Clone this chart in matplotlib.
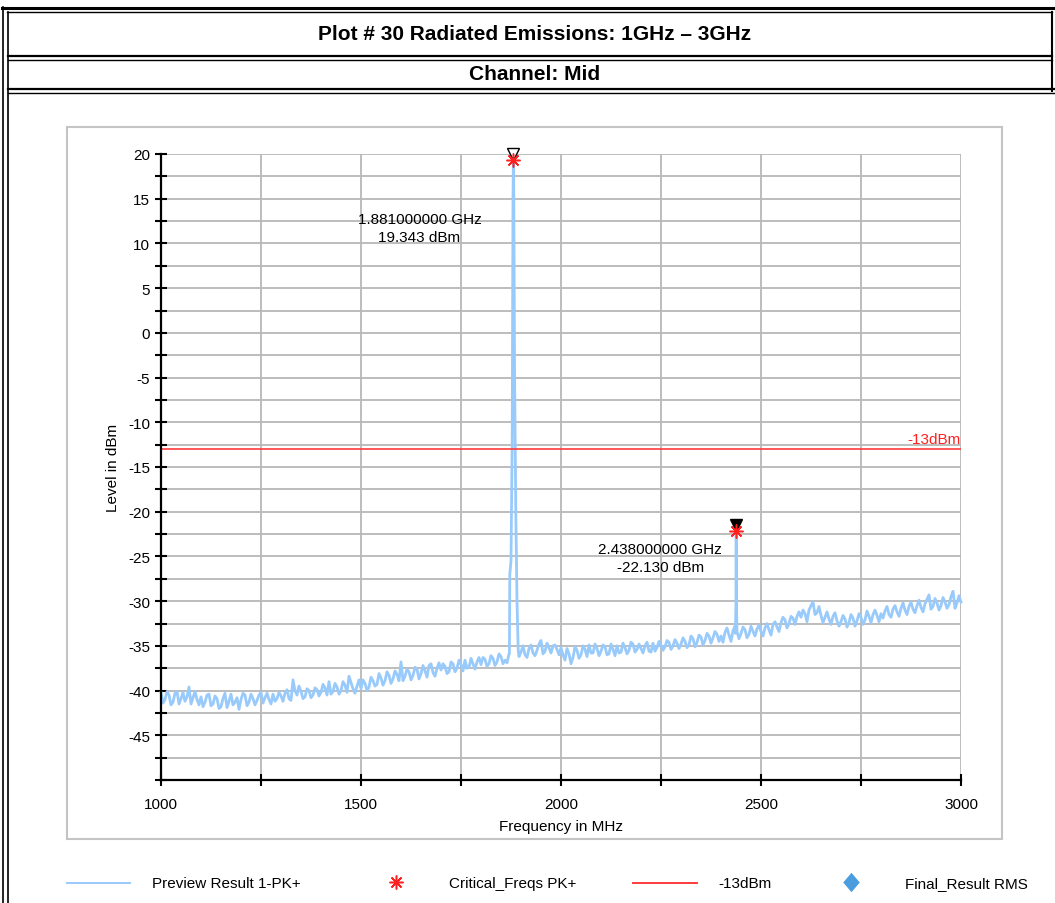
import numpy as np
import matplotlib
matplotlib.use("Agg")
import matplotlib.pyplot as plt
from matplotlib.lines import Line2D
from matplotlib.patches import Rectangle
from matplotlib import transforms

plt.rcParams['font.family'] = ['Liberation Sans', 'DejaVu Sans']
plt.rcParams['axes.unicode_minus'] = False

# ---------------- data ----------------
title_text = "Plot # 30 Radiated Emissions: 1GHz \u2013 3GHz"
subtitle_text = "Channel: Mid"

# trace sampled at 1000, 1010, ... 3000 MHz
noise_level = [
    -40.2, -41.0, -40.5, -41.3, -40.1, -40.9, -41.2, -39.6, -40.8, -41.0,
    -40.7, -41.3, -40.4, -41.5, -40.9, -41.8, -40.3, -41.2, -41.6, -40.8,
    -41.0, -40.5, -41.3, -40.9, -41.1, -40.2, -40.8, -41.0, -40.4, -40.9,
    -40.6, -40.3, -40.9, -38.8, -40.5, -40.1, -40.7, -40.0, -40.5, -39.9,
    -40.2, -39.7, -39.0, -40.1, -39.6, -40.0, -39.4, -38.4, -39.8, -39.5,
    -39.8, -39.2, -39.6, -38.9, -39.3, -38.6, -38.9, -38.3, -38.7, -38.2,
    -36.8, -38.4, -37.9, -38.3, -37.6, -38.1, -37.8, -37.2, -38.0, -37.5,
    -37.7, -37.3, -37.9, -37.0, -37.5, -37.1, -36.6, -37.4, -37.0, -36.8,
    -37.1, -36.5, -37.0, -36.4, -36.8, -36.2, -36.6, -35.9, -35.5, -35.6,
    -35.7, -36.0, -35.3, -35.8, -35.5, -34.4, -35.6, -35.2, -35.0, -35.4,
    -35.2, -36.6, -35.9, -36.3, -35.5, -36.0, -35.4, -34.9, -35.8, -35.3,
    -35.6, -35.1, -35.9, -35.4, -35.0, -35.7, -35.2, -35.5, -34.8, -35.4,
    -35.3, -35.0, -35.6, -34.7, -35.2, -34.9, -35.1, -34.6, -35.0, -34.7,
    -34.8, -34.5, -34.9, -34.2, -34.6, -34.0, -34.4, -33.9, -34.1, -33.7,
    -33.9, -33.5, -33.8, -33.3, -33.4, -33.6, -33.2, -33.7, -33.4, -33.1,
    -33.4, -33.0, -33.2, -32.6, -32.9, -32.4, -32.1, -32.5, -31.9, -31.7,
    -31.8, -31.4, -31.0, -30.1, -31.3, -31.6, -31.8, -32.0, -31.7, -32.2,
    -32.3, -32.0, -32.4, -31.9, -32.2, -31.8, -32.1, -31.7, -31.5, -31.6,
    -31.4, -31.1, -31.5, -30.9, -31.2, -30.8, -31.0, -30.6, -30.9, -30.5,
    -30.7, -30.3, -29.3, -30.6, -30.2, -30.5, -30.1, -30.4, -28.9, -30.2,
    -30.1,
]
# trace sampled at 1005, 1015, ... 2995 MHz
noise_level_mid = [
    -41.4, -40.1, -41.6, -40.3, -41.5, -40.2, -40.7, -41.5, -40.1, -41.6,
    -41.8, -40.5, -41.7, -40.6, -42.0, -40.9, -41.9, -40.4, -41.3, -42.1,
    -40.3, -41.7, -40.4, -41.6, -40.5, -41.4, -40.3, -41.5, -41.2, -40.2,
    -41.2, -39.9, -41.1, -40.0, -39.5, -40.9, -39.8, -40.8, -39.7, -40.6,
    -39.3, -40.5, -40.4, -39.2, -40.4, -39.0, -40.2, -39.1, -40.3, -38.8,
    -38.8, -40.0, -38.5, -39.5, -38.1, -39.4, -37.9, -39.2, -37.8, -38.9,
    -38.9, -37.6, -38.8, -37.4, -38.7, -37.2, -38.5, -37.0, -38.4, -36.9,
    -37.0, -38.1, -36.8, -37.9, -36.6, -37.8, -37.5, -36.4, -37.6, -36.3,
    -36.3, -37.3, -36.1, -37.2, -35.9, -37.0, -36.9, -35.8, -35.4, -36.2,
    -35.0, -36.3, -34.9, -36.1, -34.8, -35.9, -34.7, -35.8, -34.9, -36.0,
    -36.0, -35.3, -37.0, -35.1, -36.4, -35.0, -36.2, -35.8, -34.8, -36.1,
    -34.9, -36.0, -34.8, -36.1, -35.8, -34.7, -35.9, -34.6, -35.7, -34.8,
    -35.8, -34.6, -35.7, -35.6, -34.5, -35.5, -34.4, -35.4, -34.3, -35.3,
    -34.1, -35.2, -33.9, -35.1, -33.8, -34.9, -33.6, -34.7, -33.4, -34.5,
    -34.6, -33.0, -34.5, -32.8, -34.2, -32.9, -34.1, -32.8, -33.9, -32.7,
    -33.9, -32.5, -33.8, -32.3, -33.4, -31.8, -33.0, -31.7, -32.6, -31.2,
    -31.0, -32.3, -30.5, -31.5, -30.6, -32.4, -31.2, -32.6, -31.3, -32.8,
    -31.6, -32.9, -31.5, -32.8, -31.4, -32.6, -31.1, -32.4, -31.0, -32.3,
    -31.9, -30.6, -31.8, -30.5, -31.7, -30.2, -31.5, -30.1, -31.3, -29.9,
    -31.2, -29.8, -30.9, -29.7, -31.0, -29.6, -30.8, -29.5, -30.8, -29.4,
]

# carrier spike around 1881 MHz
spike1_freq = [1871, 1872, 1875, 1878, 1880, 1881, 1882, 1884, 1887, 1890, 1893]
spike1_level = [-35.9, -27.0, -25.5, -12.0, 15.0, 19.343, 15.0, -5.0, -20.0, -30.0, -35.5]
# spurious spike at 2438 MHz
spike2_freq = [2436, 2437.5, 2438, 2438.5, 2440]
spike2_level = [-33.6, -30.0, -22.13, -30.0, -33.4]

crit_freq = [1881.0, 2438.0]
crit_level = [19.343, -22.13]
crit_labels = ["1.881000000 GHz\n19.343 dBm", "2.438000000 GHz\n-22.130 dBm"]

limit_level = -13
limit_label = "-13dBm"

legend_labels = ["Preview Result 1-PK+", "Critical_Freqs PK+", "-13dBm", "Final_Result RMS"]

# ---------------- build trace ----------------
nf = np.concatenate([np.arange(1000, 3001, 10), np.arange(1005, 3000, 10)]).astype(float)
nl = np.array(noise_level + noise_level_mid, dtype=float)
mask = ~(((nf > 1870) & (nf < 1894)) | ((nf > 2435) & (nf < 2441)))
freq = np.concatenate([nf[mask], spike1_freq, spike2_freq])
level = np.concatenate([nl[mask], spike1_level, spike2_level])
order = np.argsort(freq, kind="stable")
freq, level = freq[order], level[order]

# ---------------- figure ----------------
W, H = 1055, 904
fig = plt.figure(figsize=(W / 100, H / 100), dpi=100)

def fx(px):
    return px / W

def fy(py):
    return 1 - py / H

def hline(y, x0, x1, lw, color="black"):
    fig.add_artist(Line2D([fx(x0), fx(x1)], [fy(y), fy(y)], lw=lw, color=color,
                          transform=fig.transFigure))

def vline(x, y0, y1, lw, color="black"):
    fig.add_artist(Line2D([fx(x), fx(x)], [fy(y0), fy(y1)], lw=lw, color=color,
                          transform=fig.transFigure))

# outer frame
hline(9, 2, 1055, 2.2)
hline(13, 7, 1052, 1.0)
vline(3, 8, 904, 1.2)
vline(8, 13, 904, 1.2)
vline(1052, 13, 92, 1.5)
hline(57, 8, 1052, 1.6)
hline(61, 8, 1052, 1.0)
hline(90, 8, 1055, 1.6)
hline(94, 8, 1055, 1.0)

title_family = ["Liberation Sans Narrow", "Liberation Sans", "DejaVu Sans"]
fig.text(fx(535), fy(34), title_text, ha="center", va="center", fontsize=15,
         fontweight="bold", family=title_family)
fig.text(fx(535), fy(74), subtitle_text, ha="center", va="center", fontsize=15,
         fontweight="bold", family=title_family)

# chart gray box
fig.add_artist(Rectangle((fx(67), fy(840)), fx(1002) - fx(67), fy(128) - fy(840),
                         transform=fig.transFigure, fill=False, edgecolor="#c4c4c4", lw=1.5))

ax = fig.add_axes([fx(161), fy(781), fx(961) - fx(161), fy(155) - fy(781)])
ax.set_xlim(1000, 3000)
ax.set_ylim(-50, 20)

ax.set_xticks(np.arange(1000, 3001, 500))
ax.set_xticks(np.arange(1000, 3001, 250), minor=True)
ax.set_yticks(np.arange(-45, 21, 5))
ax.set_yticks(np.arange(-50, 21, 2.5), minor=True)
ax.grid(True, which="both", color="#b8b8b8", lw=1.3)
ax.set_axisbelow(True)
for s in ["top", "right"]:
    ax.spines[s].set_visible(False)
for s in ["left", "bottom"]:
    ax.spines[s].set_linewidth(1.6)
    ax.spines[s].set_zorder(5)
ax.tick_params(which="both", direction="inout", length=8, width=1.5, labelsize=11)
ax.tick_params(axis="x", which="major", pad=8)
ax.tick_params(axis="y", which="major", pad=4)

ax.set_xlabel("Frequency in MHz", fontsize=11, labelpad=6)
ax.set_ylabel("Level in dBm", fontsize=11, labelpad=6)

# trace
ax.plot(freq, level, color="#99cafc", lw=2.0, zorder=3, clip_on=False)

# limit line
ax.axhline(limit_level, color="#ff3b3b", lw=1.2, zorder=3)
ax.text(3000, limit_level + 0.3, limit_label, color="#ff2020", fontsize=11,
        ha="right", va="bottom")

# critical frequency markers
ax.plot(crit_freq, crit_level, ls="none", marker=(8, 2, 0), ms=10, mew=1.1,
        color="#ff2020", zorder=6, clip_on=False)
tri_tf = transforms.offset_copy(ax.transData, fig=fig, y=4.5, units="points")
ax.plot(crit_freq[0], crit_level[0], ls="none", marker="v", ms=8, mfc="white",
        mec="black", mew=1.0, transform=tri_tf, zorder=5, clip_on=False)
ax.plot(crit_freq[1], crit_level[1], ls="none", marker="v", ms=8, mfc="black",
        mec="black", mew=1.0, transform=tri_tf, zorder=5, clip_on=False)

offsets = [(-94 * 0.72, -68 * 0.72), (-76 * 0.72, -27 * 0.72)]
for f, l, t, off in zip(crit_freq, crit_level, crit_labels, offsets):
    ax.annotate(t, xy=(f, l), xytext=off, textcoords="offset points", ha="center",
                va="center", fontsize=11, linespacing=1.35)

# legend (drawn manually)
ly = 884
diamond = [(0, 1), (0.85, 0), (0, -1), (-0.85, 0), (0, 1)]
fig.add_artist(Line2D([fx(67), fx(130)], [fy(ly), fy(ly)], color="#99cafc", lw=1.4))
fig.text(fx(152), fy(ly), legend_labels[0], fontsize=11, va="center", ha="left")
fig.add_artist(Line2D([fx(396)], [fy(ly - 1)], marker=(8, 2, 0), ms=10, mew=1.1,
                      color="#ff2020", ls="none"))
fig.text(fx(449), fy(ly), legend_labels[1], fontsize=11, va="center", ha="left")
fig.add_artist(Line2D([fx(633), fx(697)], [fy(ly), fy(ly)], color="#ff3b3b", lw=1.4))
fig.text(fx(718), fy(ly), legend_labels[2], fontsize=11, va="center", ha="left")
fig.add_artist(Line2D([fx(851)], [fy(ly - 1)], marker=diamond, ms=14, color="#4a9ee0",
                      mew=0, ls="none"))
fig.text(fx(905), fy(ly), legend_labels[3], fontsize=11, va="center", ha="left")

fig.savefig("out.png", dpi=100)
